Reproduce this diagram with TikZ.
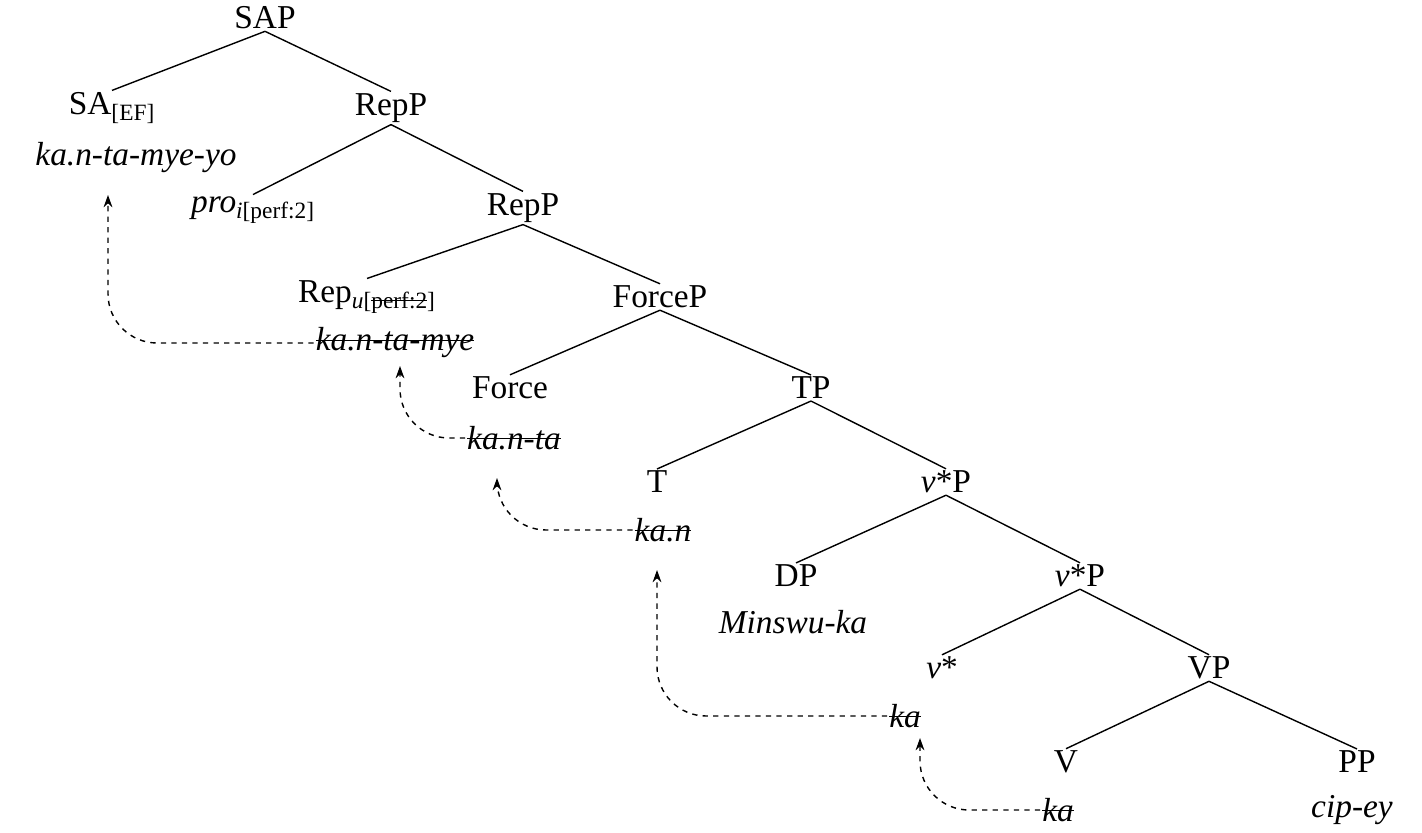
\documentclass[tikz,border=0pt]{standalone}
\usepackage{fontspec}
\setmainfont{Liberation Serif}
\usetikzlibrary{arrows.meta}
\newcommand\strk[1]{\setbox0\hbox{#1}\rlap{\rule[0.3em]{\wd0}{0.6pt}}\box0}
\begin{document}
\begin{tikzpicture}[x=0.02cm,y=-0.02cm,
  every node/.style={font=\fontsize{19}{22}\selectfont, inner sep=1pt},
  br/.style={line width=0.8pt},
  mv/.style={dashed, line width=0.8pt, -{Stealth[length=7pt,width=5pt]}, rounded corners=28pt}]
\useasboundingbox (0,0) rectangle (1422,832);
\node (sap) at (265,18) {SAP};
\node (sa) at (112,108) {SA\textsubscript{[EF]}};
\node (w1) at (136,158) {\textit{ka.n-ta-mye-yo}};
\node (rep1) at (391,108) {RepP};
\node (pro) at (253,210) {\textit{pro}\textsubscript{\textit{i}[perf:2]}};
\node (rep2) at (523,208) {RepP};
\node (rep) at (367,297) {Rep\textsubscript{\textit{u}[\strk{perf:2}]}};
\node (w2) at (395,343) {\textit{\strk{ka.n-ta-mye}}};
\node (forcep) at (660,297) {ForceP};
\node (force) at (510,388) {Force};
\node (w3) at (514,438) {\textit{\strk{ka.n-ta}}};
\node (tp) at (811,388) {TP};
\node (t) at (657,482) {T};
\node (w4) at (663,530) {\textit{\strk{ka.n}}};
\node (vp1) at (946,482) {\textit{v}*P};
\node (dp) at (796,576) {DP};
\node (w5) at (793,622) {\textit{Minswu-ka}};
\node (vp2) at (1080,576) {\textit{v}*P};
\node (v) at (942,668) {\textit{v}*};
\node (w6) at (905,716) {\textit{\strk{ka}}};
\node (vp) at (1209,668) {VP};
\node (vv) at (1066,762) {V};
\node (w7) at (1058,810) {\textit{\strk{ka}}};
\node (pp) at (1357,762) {PP};
\node (w8) at (1352,810) {\textit{cip-ey}};
\foreach \p/\a/\b in {sap/sa/rep1, rep1/pro/rep2, rep2/rep/forcep, forcep/force/tp, tp/t/vp1, vp1/dp/vp2, vp2/v/vp, vp/vv/pp}
  {\draw[br] (\p.south) -- (\a.north); \draw[br] (\p.south) -- (\b.north);}
\coordinate (e1) at (108,195);
\coordinate (e2) at (400,366);
\coordinate (e3) at (497,478);
\coordinate (e4) at (657,570);
\coordinate (e5) at (920,738);
\draw[mv] (w2.west) -| (e1);
\draw[mv] (w3.west) -| (e2);
\draw[mv] (w4.west) -| (e3);
\draw[mv] (w6.west) -| (e4);
\draw[mv] (w7.west) -| (e5);
\end{tikzpicture}
\end{document}
